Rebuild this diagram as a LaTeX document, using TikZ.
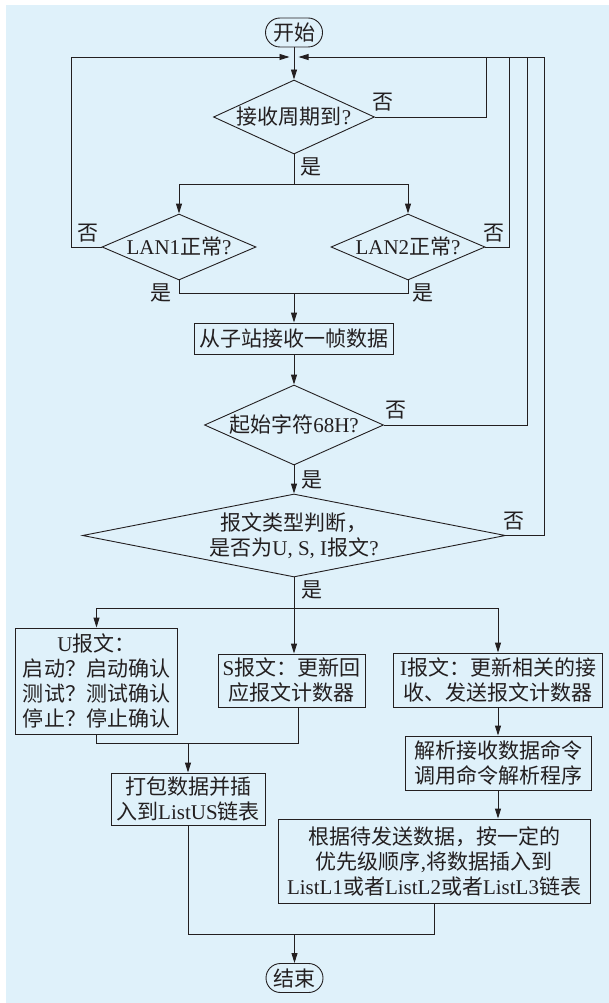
\documentclass[tikz,border=0pt]{standalone}
\usepackage{fontspec}
\setmainfont{Noto Sans CJK SC}
\newfontfamily\latf{Liberation Serif}
\usetikzlibrary{arrows.meta,shapes.geometric}
\definecolor{bgblue}{RGB}{223,241,250}
\definecolor{linec}{RGB}{35,31,32}
\tikzset{
  line/.style={draw=linec, line width=0.9pt},
  arr/.style={line, -{Triangle[length=10pt,width=6pt]}},
  box/.style={draw=linec, line width=0.9pt, rectangle, inner sep=0pt, align=center, text=linec},
  term/.style={box, rounded corners=14.5pt, minimum width=57pt, minimum height=29pt},
  dec/.style={draw=linec, line width=0.9pt, diamond, inner sep=0pt, align=center, text=linec},
  lbl/.style={inner sep=0pt, text=linec},
}
\begin{document}
\begin{tikzpicture}[x=1pt,y=-1pt,font=\fontsize{21}{25}\selectfont]
\useasboundingbox (0,0) rectangle (609,1003);
\fill[bgblue] (6,5) rectangle (609,1003);

% nodes
\node[term] (start) at (294,32.5) {开始};
\coordinate (merge) at (294,57);
\node[dec, minimum width=161pt, minimum height=74pt, aspect=2.18] (d1) at (294,117) {接收周期到{\latf ?}};
\node[dec, minimum width=154pt, minimum height=66pt, aspect=2.33] (lan1) at (179,247) {{\latf LAN1}正常{\latf ?}};
\node[dec, minimum width=154pt, minimum height=66pt, aspect=2.33] (lan2) at (408,247) {{\latf LAN2}正常{\latf ?}};
\node[box, minimum width=199pt, minimum height=31pt] (box1) at (294,338.5) {从子站接收一帧数据};
\node[dec, minimum width=179pt, minimum height=80pt, aspect=2.24] (d68) at (294,425) {起始字符{\latf 68H?}};
\node[dec, minimum width=423pt, minimum height=83pt, aspect=5.1] (dbig) at (294,535.5) {报文类型判断，\\是否为{\latf U, S, I}报文{\latf ?}};
\node[box, minimum width=162pt, minimum height=106pt] (ubox) at (96.5,681) {{\latf U}报文：\\启动？启动确认\\测试？测试确认\\停止？停止确认};
\node[box, minimum width=147pt, minimum height=53pt] (sbox) at (291.5,680.5) {{\latf S}报文：更新回\\应报文计数器};
\node[box, minimum width=209pt, minimum height=54pt] (ibox) at (498,680) {{\latf I}报文：更新相关的接\\收、发送报文计数器};
\node[box, minimum width=154pt, minimum height=52pt] (pack) at (188,799) {打包数据并插\\入到{\latf ListUS}链表};
\node[box, minimum width=186pt, minimum height=54pt] (parse) at (498,763) {解析接收数据命令\\调用命令解析程序};
\node[box, minimum width=312pt, minimum height=84pt] (big) at (434,861) {根据待发送数据，按一定的\\优先级顺序{\latf ,}将数据插入到\\{\latf ListL1}或者{\latf ListL2}或者{\latf ListL3}链表};
\node[term] (end) at (294.5,978) {结束};

% labels
\node[lbl] (n1) at (383,102) {否};
\node[lbl] (y1) at (311,167) {是};
\node[lbl] (n2) at (88,233) {否};
\node[lbl] (n3) at (494,233) {否};
\node[lbl] (y2) at (161,293) {是};
\node[lbl] (y3) at (423,293) {是};
\node[lbl] (n4) at (396,410) {否};
\node[lbl] (y4) at (312,480) {是};
\node[lbl] (n5) at (514,521) {否};
\node[lbl] (y5) at (312,590) {是};

% coordinates
\coordinate (cl) at (71,57);
\coordinate (c1) at (486,57);
\coordinate (c2) at (509,57);
\coordinate (c3) at (527,57);
\coordinate (c4) at (544,57);
\coordinate (s1) at (294,184);
\coordinate (j1) at (294,293);
\coordinate (s2) at (294,608);
\coordinate (j2) at (188,743);
\coordinate (sj) at (298,707);
\coordinate (j3) at (294.5,934);

% connectors
\draw[arr] (start) -- (d1);
\draw[arr, shorten >=4.5pt] (lan1.west) -| (cl) -- (merge);
\draw[line] (d1.east) -| (c1);
\draw[line] (lan2.east) -| (c2);
\draw[line] (d68.east) -| (c3);
\draw[arr, shorten >=4.5pt] (dbig.east) -| (c4) -- (merge);
\draw[line] (d1.south) -- (s1);
\draw[arr] (s1) -| (lan1.north);
\draw[arr] (s1) -| (lan2.north);
\draw[line] (lan1.south) |- (j1);
\draw[line] (lan2.south) |- (j1);
\draw[arr] (j1) -- (box1);
\draw[arr] (box1) -- (d68);
\draw[arr] (d68) -- (dbig);
\draw[line] (dbig.south) -- (s2);
\draw[arr] (s2) -| (ubox.north);
\draw[arr] (s2) -- (s2 |- sbox.north);
\draw[arr] (s2) -| (ibox.north);
\draw[line] (ubox.south) |- (j2);
\draw[line] (sj) |- (j2);
\draw[arr] (j2) -- (pack);
\draw[arr] (ibox) -- (parse);
\draw[arr] (parse) -- (parse.south |- big.north);
\draw[line] (pack.south) |- (j3);
\draw[line] (big.south) |- (j3);
\draw[arr] (j3) -- (end);
\end{tikzpicture}
\end{document}
